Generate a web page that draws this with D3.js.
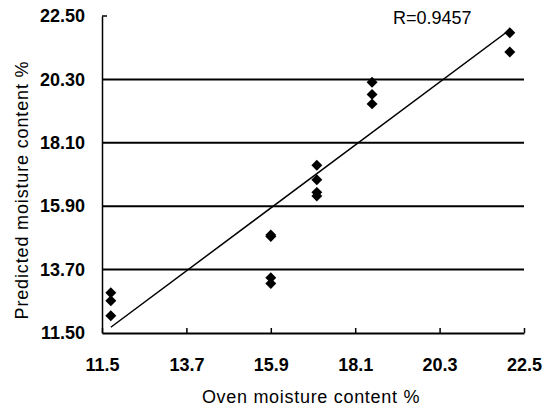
<!DOCTYPE html>
<html>
<head>
<meta charset="utf-8">
<script src="https://cdn.jsdelivr.net/npm/d3@7"></script>
<style>
  body { margin: 0; background: #fff; }
  .tick text { font-family: "Liberation Sans", Arial, sans-serif; font-size: 18px; font-weight: bold; fill: #000; }
</style>
</head>
<body>
<div id="chart"></div>
<script>
// data
const ovenX = [11.73, 11.73, 11.73, 15.9, 15.9, 15.9, 15.9, 17.1, 17.1, 17.1, 17.1, 18.54, 18.54, 18.54, 22.13, 22.13];
const predY = [12.9, 12.62, 12.1, 14.9, 14.85, 13.42, 13.22, 17.32, 16.82, 16.38, 16.25, 20.2, 19.78, 19.45, 21.92, 21.25];
const trendX = [11.73, 22.13];
const trendY = [11.7, 22.02];
const xTicks = [11.5, 13.7, 15.9, 18.1, 20.3, 22.5];
const yTicks = [11.5, 13.7, 15.9, 18.1, 20.3, 22.5];
const rLabel = "R=0.9457";

const W = 554, H = 411;
const margin = {top: 16, right: 30, bottom: 78, left: 102};

const svg = d3.select("#chart")
    .append("svg")
        .attr("width", W)
        .attr("height", H);

const x = d3.scaleLinear()
    .domain([11.5, 22.5])
    .range([margin.left, W - margin.right]);

const y = d3.scaleLinear()
    .domain([11.5, 22.5])
    .range([H - margin.bottom, margin.top]);

// horizontal gridlines
svg.append("g")
    .selectAll("line")
    .data(yTicks.slice(1, -1))
    .join("line")
        .attr("x1", x(11.5))
        .attr("x2", x(22.5))
        .attr("y1", d => y(d))
        .attr("y2", d => y(d))
        .attr("stroke", "#000")
        .attr("stroke-width", 2);

// top stub of y axis
svg.append("line")
    .attr("x1", x(11.5))
    .attr("x2", x(11.5) + 5)
    .attr("y1", y(22.5))
    .attr("y2", y(22.5))
    .attr("stroke", "#000")
    .attr("stroke-width", 1.5);

// Y axis
const yAxis = svg.append("g")
    .attr("transform", `translate(${x(11.5)},0)`)
    .call(d3.axisLeft(y).tickValues(yTicks).tickSize(0).tickPadding(17).tickFormat(d3.format(".2f")));
yAxis.select(".domain").attr("stroke", "#000").attr("stroke-width", 1.5);

// X axis, ticks pointing up
const xAxis = svg.append("g")
    .attr("transform", `translate(0,${y(11.5)})`)
    .call(d3.axisBottom(x).tickValues(xTicks).tickSizeInner(-5).tickSizeOuter(0).tickPadding(25).tickFormat(d3.format(".1f")));
xAxis.select(".domain").attr("stroke", "#000").attr("stroke-width", 2);
xAxis.selectAll(".tick line").attr("stroke", "#000").attr("stroke-width", 1.5);

// trend line
svg.append("line")
    .attr("x1", x(trendX[0]))
    .attr("y1", y(trendY[0]))
    .attr("x2", x(trendX[1]))
    .attr("y2", y(trendY[1]))
    .attr("stroke", "#000")
    .attr("stroke-width", 1.5);

// diamonds
const diamond = d3.symbol().type(d3.symbolSquare).size(60);
svg.append("g")
    .selectAll("path")
    .data(ovenX.map((v, i) => [v, predY[i]]))
    .join("path")
        .attr("d", diamond)
        .attr("transform", d => `translate(${x(d[0])},${y(d[1])}) rotate(45)`)
        .attr("fill", "#000");

// R label
svg.append("text")
    .attr("x", 393)
    .attr("y", 24)
    .style("font-family", "'Liberation Sans', Arial, sans-serif")
    .style("font-size", "18px")
    .text(rLabel);

// X axis title
svg.append("text")
    .attr("x", 311)
    .attr("y", 403)
    .style("text-anchor", "middle")
    .style("font-family", "'Liberation Sans', Arial, sans-serif")
    .style("font-size", "18px")
    .style("letter-spacing", "0.7px")
    .text("Oven moisture content %");

// Y axis title
svg.append("text")
    .attr("transform", "rotate(-90)")
    .attr("x", -190)
    .attr("y", 28)
    .style("text-anchor", "middle")
    .style("font-family", "'Liberation Sans', Arial, sans-serif")
    .style("font-size", "18px")
    .style("letter-spacing", "0.85px")
    .text("Predicted moisture content %");
</script>
</body>
</html>
